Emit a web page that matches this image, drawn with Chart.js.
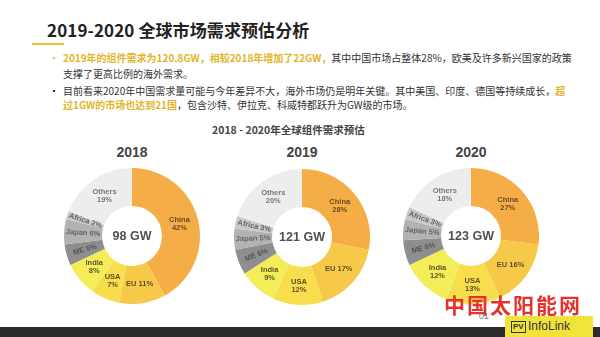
<!DOCTYPE html>
<html>
<head>
<meta charset="utf-8">
<script src="https://cdn.jsdelivr.net/npm/chart.js@4.4.1/dist/chart.umd.min.js"></script>
<style>
  body { margin: 0; width: 600px; height: 337px; background: #fff; position: relative; overflow: hidden;
         font-family: "Noto Sans CJK SC", sans-serif; }
  .abs { position: absolute; white-space: nowrap; }
  #title { left: 47px; top: 16px; font-size: 17px; letter-spacing: 0.1px; font-weight: bold; color: #222; line-height: 28px; }
  #uline { left: 32px; top: 43px; width: 32px; height: 2px; background: #EBC02E; }
  .ln { left: 63px; font-size: 10px; color: #333; line-height: 14px; }
  .dot { left: 49px; font-size: 10px; line-height: 14px; }
  .hl { color: #E2B52C; font-weight: bold; }
  #sub { left: 212px; top: 122px; font-size: 10.5px; font-weight: bold; color: #444; line-height: 16px; }
  .yr { width: 80px; text-align: center; top: 143px; font-family: "Liberation Sans", Arial, sans-serif;
        font-size: 14px; font-weight: bold; color: #444; line-height: 18px; }
  canvas.pie { position: absolute; }
  #bar { left: 0; top: 327px; width: 600px; height: 10px; background: #2c2c2c; }
  #wm { left: 444px; top: 290px; font-size: 21px; letter-spacing: 2px; font-weight: bold; color: #E5322D; line-height: 28px; }
  #pg { left: 479px; top: 310px; font: 9px "Liberation Sans", sans-serif; color: #777; line-height: 12px; }
  #logo { left: 505px; top: 316px; width: 88px; height: 21px; background: #F2E33A; }
  #pv { left: 511px; top: 321px; border: 1.5px solid #333; font: bold 8px "Liberation Sans", sans-serif; color: #333; padding: 0 1px; line-height: 10px; }
  #il { left: 528px; top: 318px; font: 12px "Liberation Sans", sans-serif; color: #333; line-height: 16px; }
</style>
</head>
<body>
<div class="abs" id="title">2019-2020 全球市场需求预估分析</div>
<div class="abs" id="uline"></div>

<div class="abs dot" style="top:51px;color:#E2B52C">•</div>
<div class="abs ln" style="top:51px"><span class="hl">2019年的组件需求为120.8GW，相较2018年增加了22GW，</span>其中中国市场占整体28%，欧美及许多新兴国家的政策</div>
<div class="abs ln" style="top:67px">支撑了更高比例的海外需求。</div>
<div class="abs dot" style="top:84px">•</div>
<div class="abs ln" style="top:84px">目前看来2020年中国需求量可能与今年差异不大，海外市场仍是明年关键。其中美国、印度、德国等持续成长，<span class="hl">超</span></div>
<div class="abs ln" style="top:98px"><span class="hl">过1GW的市场也达到21国</span>，包含沙特、伊拉克、科威特都跃升为GW级的市场。</div>

<div class="abs" id="sub">2018 - 2020年全球组件需求预估</div>

<div class="abs yr" style="left:92px">2018</div>
<div class="abs yr" style="left:262px">2019</div>
<div class="abs yr" style="left:431px">2020</div>

<canvas class="pie" id="c2018" width="136" height="136" style="left:64px;top:168px"></canvas>
<canvas class="pie" id="c2019" width="136" height="136" style="left:234px;top:169px"></canvas>
<canvas class="pie" id="c2020" width="136" height="136" style="left:403px;top:168px"></canvas>

<div class="abs" id="wm">中国太阳能网</div>
<div class="abs" id="pg">01</div>
<div class="abs" id="bar"></div>
<div class="abs" id="logo"></div>
<div class="abs" id="pv">PV</div>
<div class="abs" id="il">InfoLink</div>

<script>
// market shares (%) per year, clockwise from 12 o'clock
const categories = ['China', 'EU', 'USA', 'India', 'ME', 'Japan', 'Africa', 'Others'];
const share2018 = [42, 11, 7, 8, 5, 6, 2, 19];
const share2019 = [28, 17, 12, 9, 6, 5, 3, 20];
const share2020 = [27, 16, 13, 12, 6, 5, 3, 18];
const totals = { c2018: '98 GW', c2019: '121 GW', c2020: '123 GW' };

const sliceColors = ['#F5AD47', '#F7C949', '#F8DD4C', '#F3ED5A', '#8E8E8E', '#B2B2B2', '#C9C9C9', '#EDEDED'];
const textColors = ['#6B4C1C', '#5E4E26', '#5E4E26', '#5E5428', '#555', '#666', '#666', '#777'];
const twoLine = [true, false, true, true, false, false, false, true];
const radial = [false, false, false, false, true, true, true, false];

// draws the name/percentage inside each slice and the total in the hole
const sliceLabels = {
  id: 'sliceLabels',
  afterDatasetsDraw(chart) {
    const ctx = chart.ctx;
    const meta = chart.getDatasetMeta(0);
    const vals = chart.data.datasets[0].data;
    ctx.save();
    ctx.textAlign = 'center';
    ctx.textBaseline = 'middle';
    ctx.font = 'bold 7.5px "Liberation Sans", Arial, sans-serif';
    meta.data.forEach((arc, i) => {
      const p = arc.getProps(['x', 'y', 'startAngle', 'endAngle', 'innerRadius', 'outerRadius'], true);
      const a = (p.startAngle + p.endAngle) / 2;
      const r = (p.innerRadius + p.outerRadius) / 2;
      const x = p.x + Math.cos(a) * r;
      const y = p.y + Math.sin(a) * r;
      const name = chart.data.labels[i];
      const pct = vals[i] + '%';
      ctx.fillStyle = textColors[i];
      ctx.save();
      ctx.translate(x, y);
      if (radial[i]) ctx.rotate(a - Math.PI);
      if (twoLine[i]) {
        ctx.fillText(name, 0, -4);
        ctx.fillText(pct, 0, 4);
      } else {
        ctx.fillText(name + ' ' + pct, 0, 0);
      }
      ctx.restore();
    });
    const c = meta.data[0];
    ctx.fillStyle = '#505050';
    ctx.font = 'bold 12.5px "Liberation Sans", Arial, sans-serif';
    ctx.fillText(totals[chart.canvas.id], c.x, c.y + 1);
    ctx.restore();
  }
};

function makeDonut(id, values) {
  new Chart(document.getElementById(id), {
    type: 'doughnut',
    data: {
      labels: categories,
      datasets: [{
        data: values,
        backgroundColor: sliceColors,
        borderWidth: 0,
        hoverOffset: 0
      }]
    },
    options: {
      responsive: false,
      animation: false,
      events: [],
      cutout: '44%',
      layout: { padding: 0 },
      plugins: { legend: { display: false }, tooltip: { enabled: false } }
    },
    plugins: [sliceLabels]
  });
}

makeDonut('c2018', share2018);
makeDonut('c2019', share2019);
makeDonut('c2020', share2020);
</script>
</body>
</html>
